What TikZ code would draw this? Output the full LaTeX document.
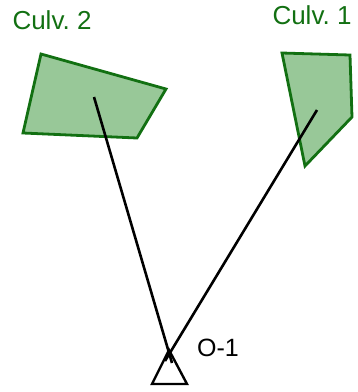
\documentclass[tikz,border=0pt]{standalone}
\usepackage{fontspec}
\setmainfont{Liberation Sans}
\usetikzlibrary{positioning}
\definecolor{culvgreen}{RGB}{18,112,18}
\definecolor{culvfill}{RGB}{152,200,152}

\begin{document}
\begin{tikzpicture}[x=1pt, y=-1pt,
    culvert/.style={draw=culvgreen, line width=2.8pt, fill=culvfill},
    culvlabel/.style={text=culvgreen, font=\fontsize{26}{30}\selectfont, inner sep=0pt},
    sightline/.style={draw=black, line width=2.6pt}]
  \useasboundingbox (0,0) rectangle (358,392);

  % culverts
  \draw[culvert] (41,54) -- (166,89) -- (137,138) -- (23,133) -- cycle;
  \draw[culvert] (282,53) -- (350,55) -- (352,117) -- (305,166) -- cycle;
  \node[culvlabel] (culv2) at (52,20) {Culv.\ 2};
  \node[culvlabel] (culv1) at (312,15) {Culv.\ 1};

  % observation point
  \coordinate (c2) at (94,97);
  \coordinate (c1) at (317,110);
  \coordinate (e2) at (172,363);
  \coordinate (e1) at (165,361);
  \draw[line width=2.4pt, line join=miter] (169,350) coordinate (apex) -- (187,384) -- (152,384) -- cycle;
  \node[inner sep=0pt, font=\fontsize{25}{29}\selectfont] (o1) at (218,348) {O-1};

  \draw[sightline] (c2) -- (e2);
  \draw[sightline] (c1) -- (e1);
\end{tikzpicture}
\end{document}
